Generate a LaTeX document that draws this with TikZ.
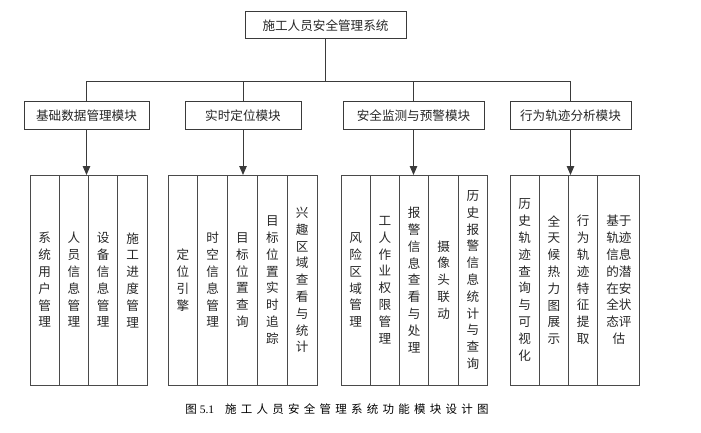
\documentclass[tikz,border=0pt]{standalone}
\usepackage{fontspec}
\setmainfont{Liberation Serif}
\newfontfamily\cjk{Noto Sans CJK SC}
\usetikzlibrary{arrows.meta,calc}

% allow a line break between any two CJK characters
\XeTeXlinebreaklocale "zh"
\XeTeXlinebreakskip=0pt plus 1pt

\definecolor{linec}{HTML}{3A3A3A}
\definecolor{leafc}{HTML}{4A4A4A}
\definecolor{txtc}{HTML}{262626}

\begin{document}
\begin{tikzpicture}[x=1pt,y=-1pt,thick]

% --------------------
% Parameters (tweak these)
% --------------------
\def\leafW{29.3pt}   % leaf column width
\def\leafH{210pt}    % leaf column height
\def\modH{28pt}      % module box height
\def\busdrop{42}     % drop from system box to the bus line

\tikzset{
  box/.style={draw=linec, line width=1pt, inner sep=0pt, minimum height=\modH,
    text=txtc, font=\cjk\fontsize{12.6}{15}\selectfont},
  leaf/.style={draw=leafc, line width=0.9pt, inner sep=0pt, outer sep=0pt, anchor=north west,
    minimum width=\leafW, minimum height=\leafH, text width=13pt, align=center,
    text=txtc, font=\cjk\fontsize{12.6}{16.8}\selectfont},
  link/.style={draw=linec, line width=1pt},
  arrow/.style={-{Triangle[length=9pt,width=7.5pt]}, draw=linec, line width=1pt}
}

\useasboundingbox (0,0) rectangle (701,433);

% --------------------
% System box
% --------------------
\node[box, minimum width=161pt, minimum height=27pt] (sys) at (325.5,25.5) {施工人员安全管理系统};

% --------------------
% Module boxes
% --------------------
\node[box, minimum width=125pt] (basic) at (86.5,116)  {基础数据管理模块};
\node[box, minimum width=116pt] (loc)   at (243,116)   {实时定位模块};
\node[box, minimum width=141pt] (mon)   at (413.5,116) {安全监测与预警模块};
\node[box, minimum width=121pt] (traj)  at (570.5,116) {行为轨迹分析模块};

% --------------------
% Tree links (system -> modules)
% --------------------
\coordinate (bus) at ($(sys.south)+(0,\busdrop)$);   % bus line level

\draw[link] (sys.south) -- (bus);
\draw[link] (basic.north) -- (basic.north |- bus) -- (traj.north |- bus) -- (traj.north);
\draw[link] (loc.north) -- (loc.north |- bus);
\draw[link] (mon.north) -- (mon.north |- bus);

% --------------------
% Leaf columns: basic data
% --------------------
\node[leaf] (b1) at (30,175)         {系统用户管理};
\node[leaf] (b2) at (b1.north east)  {人员信息管理};
\node[leaf] (b3) at (b2.north east)  {设备信息管理};
\node[leaf] (b4) at (b3.north east)  {施工进度管理};

% --------------------
% Leaf columns: real-time location
% --------------------
\node[leaf, minimum width=29.8pt] (l1) at (168,175)        {定位引擎};
\node[leaf, minimum width=29.8pt] (l2) at (l1.north east)  {时空信息管理};
\node[leaf, minimum width=29.8pt] (l3) at (l2.north east)  {目标位置查询};
\node[leaf, minimum width=29.8pt] (l4) at (l3.north east)  {目标位置实时追踪};
\node[leaf, minimum width=29.8pt] (l5) at (l4.north east)  {兴趣区域查看与统计};

% --------------------
% Leaf columns: monitoring and warning
% --------------------
\node[leaf] (w1) at (341,175)        {风险区域管理};
\node[leaf] (w2) at (w1.north east)  {工人作业权限管理};
\node[leaf] (w3) at (w2.north east)  {报警信息查看与处理};
\node[leaf] (w4) at (w3.north east)  {摄像头联动};
\node[leaf] (w5) at (w4.north east)  {历史报警信息统计与查询};

% --------------------
% Leaf columns: trajectory analysis
% --------------------
\node[leaf] (t1) at (510,175)        {历史轨迹查询与可视化};
\node[leaf] (t2) at (t1.north east)  {全天候热力图展示};
\node[leaf] (t3) at (t2.north east)  {行为轨迹特征提取};
\node[leaf, minimum width=42pt, text width=26pt] (t4) at (t3.north east) {基于轨迹信息的潜在安全状态评估};

% --------------------
% Module -> leaf arrows
% --------------------
\draw[arrow] (basic.south) -- (basic.south |- b1.north);
\draw[arrow] (loc.south)   -- (loc.south |- l1.north);
\draw[arrow] (mon.south)   -- (mon.south |- w1.north);
\draw[arrow] (traj.south)  -- (traj.south |- t1.north);

% --------------------
% Caption
% --------------------
\node[anchor=west, inner sep=0pt, text=black, font=\fontsize{11.5}{13}\selectfont] (cap) at (185,409)
  {{\cjk 图}\ 5.1\hspace{11pt}{\cjk\addfontfeatures{LetterSpace=37}施工人员安全管理系统功能模块设计图}};

\end{tikzpicture}
\end{document}
